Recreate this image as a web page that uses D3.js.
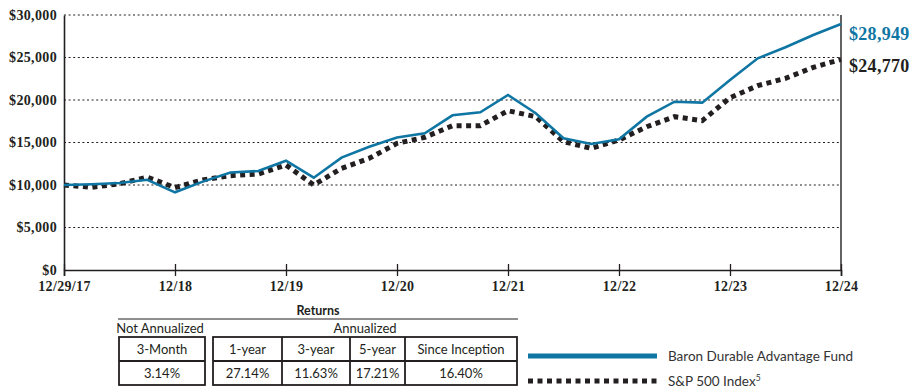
<!DOCTYPE html>
<html>
<head>
<meta charset="utf-8">
<script src="https://cdn.jsdelivr.net/npm/d3@7"></script>
<style>
  html, body { margin: 0; padding: 0; background: #fff; }
  svg { display: block; }
</style>
</head>
<body>
<svg id="chart" width="915" height="389"></svg>
<script>
// Growth of a hypothetical $10,000 investment, quarterly, 12/29/17 – 12/24
const quarterCount = 29;
const fundValues = [10000, 10080, 10230, 10620, 9140, 10400, 11480, 11650, 12860, 10860,
  13220, 14500, 15600, 16080, 18200, 18550, 20590, 18450, 15490, 14820,
  15370, 18040, 19800, 19690, 22350, 24900, 26200, 27650, 28949];
const indexValues = [10000, 9720, 10150, 10920, 9700, 10600, 11100, 11290, 12350, 10000,
  11960, 13140, 14900, 15610, 16980, 16980, 18740, 18040, 15100, 14310,
  15290, 16860, 18040, 17570, 20270, 21690, 22550, 23840, 24770];
const xTickQuarters = [0, 4, 8, 12, 16, 20, 24, 28];
const xTickLabels = ["12/29/17", "12/18", "12/19", "12/20", "12/21", "12/22", "12/23", "12/24"];
const yTicks = [0, 5000, 10000, 15000, 20000, 25000, 30000];
const endLabels = ["$28,949", "$24,770"];
const seriesNames = ["Baron Durable Advantage Fund", "S&P 500 Index"];

const returnGroups = ["Not Annualized", "Annualized"];
const returnPeriods = ["3-Month", "1-year", "3-year", "5-year", "Since Inception"];
const returnValues = ["3.14%", "27.14%", "11.63%", "17.21%", "16.40%"];

const BLUE = "#0f76a3";
const DARK = "#231f20";
const serif = "'Liberation Serif', 'Times New Roman', serif";
const sans = "Lato, 'Open Sans', sans-serif";

const svg = d3.select("#chart");
const plot = { left: 64, right: 841, top: 15, bottom: 270 };

const x = d3.scaleLinear().domain([0, quarterCount - 1]).range([plot.left, plot.right]);
const y = d3.scaleLinear().domain([0, 30000]).range([plot.bottom, plot.top]);

// dotted horizontal gridlines
svg.append("g")
  .selectAll("line")
  .data(yTicks.filter(d => d > 0))
  .join("line")
  .attr("x1", plot.left).attr("x2", plot.right)
  .attr("y1", d => y(d)).attr("y2", d => y(d))
  .attr("stroke", DARK).attr("stroke-width", 1.1)
  .attr("stroke-dasharray", "2,2.6");

// y axis
const yAxis = svg.append("g")
  .attr("transform", `translate(${plot.left},0)`)
  .call(d3.axisLeft(y).tickValues(yTicks).tickSize(0).tickPadding(7)
    .tickFormat(d => "$" + d3.format(",")(d)));
yAxis.select(".domain").attr("stroke", DARK).attr("stroke-width", 1.6);
yAxis.selectAll("text")
  .attr("font-family", serif).attr("font-weight", "bold")
  .attr("font-size", 14).attr("letter-spacing", 0.35).attr("fill", DARK);

// right frame line
svg.append("line")
  .attr("x1", plot.right).attr("x2", plot.right)
  .attr("y1", plot.top).attr("y2", plot.bottom)
  .attr("stroke", DARK).attr("stroke-width", 1.4);

// x axis
const xAxis = svg.append("g")
  .attr("transform", `translate(0,${plot.bottom})`)
  .call(d3.axisBottom(x).tickValues(xTickQuarters).tickSize(6).tickPadding(4)
    .tickFormat((d, i) => xTickLabels[i]));
xAxis.select(".domain").attr("stroke", DARK).attr("stroke-width", 1.6);
xAxis.selectAll(".tick line")
  .attr("y1", -6).attr("y2", 6)
  .attr("stroke", DARK).attr("stroke-width", 1.3);
xAxis.selectAll("text")
  .attr("y", 21).attr("dy", 0)
  .attr("font-family", serif).attr("font-weight", "bold")
  .attr("font-size", 14).attr("letter-spacing", 0.35).attr("fill", DARK);

const line = d3.line().x((d, i) => x(i)).y(d => y(d));

// S&P 500 Index (dotted)
svg.append("path")
  .datum(indexValues)
  .attr("d", line)
  .attr("fill", "none")
  .attr("stroke", DARK).attr("stroke-width", 5)
  .attr("stroke-dasharray", "5,4.5");

// Fund (solid blue)
svg.append("path")
  .datum(fundValues)
  .attr("d", line)
  .attr("fill", "none")
  .attr("stroke", BLUE).attr("stroke-width", 2.6)
  .attr("stroke-linejoin", "miter");

// ending values
const endSeries = [fundValues, indexValues];
const endOffsets = [16, 13];
svg.append("g")
  .selectAll("text")
  .data(endLabels)
  .join("text")
  .attr("x", plot.right + 8)
  .attr("y", (d, i) => y(endSeries[i][quarterCount - 1]) + endOffsets[i])
  .attr("font-family", serif).attr("font-weight", "bold")
  .attr("font-size", 18).attr("letter-spacing", 0.3)
  .attr("fill", (d, i) => i === 0 ? BLUE : DARK)
  .text(d => d);

// Returns table
const tbl = svg.append("g").attr("font-family", sans).attr("fill", DARK);
tbl.append("text")
  .attr("x", 318).attr("y", 315)
  .attr("text-anchor", "middle")
  .attr("font-weight", "bold").attr("font-size", 12.5)
  .text("Returns");
tbl.append("line")
  .attr("x1", 118).attr("x2", 518).attr("y1", 319).attr("y2", 319)
  .attr("stroke", DARK).attr("stroke-width", 1.2);

const cols = [
  { x0: 119, x1: 205 },
  { x0: 213, x1: 282 },
  { x0: 282, x1: 350 },
  { x0: 350, x1: 405 },
  { x0: 405, x1: 517 }
];
tbl.selectAll("text.group")
  .data(returnGroups)
  .join("text")
  .attr("class", "group")
  .attr("x", (d, i) => i === 0 ? (cols[0].x0 + cols[0].x1) / 2 - 2 : (cols[1].x0 + cols[4].x1) / 2)
  .attr("y", 333)
  .attr("text-anchor", "middle")
  .attr("font-size", 13)
  .text(d => d);

const rowTop = 337, rowMid = 361, rowBot = 385;
// box outlines
[[cols[0].x0, cols[0].x1], [cols[1].x0, cols[4].x1]].forEach(([a, b]) => {
  tbl.append("rect")
    .attr("x", a).attr("y", rowTop)
    .attr("width", b - a).attr("height", rowBot - rowTop)
    .attr("fill", "none").attr("stroke", DARK).attr("stroke-width", 1.8);
  tbl.append("line")
    .attr("x1", a).attr("x2", b).attr("y1", rowMid).attr("y2", rowMid)
    .attr("stroke", DARK).attr("stroke-width", 1.8);
});
tbl.selectAll("line.div")
  .data(cols.slice(2))
  .join("line")
  .attr("class", "div")
  .attr("x1", d => d.x0).attr("x2", d => d.x0)
  .attr("y1", rowTop).attr("y2", rowBot)
  .attr("stroke", DARK).attr("stroke-width", 1.8);
tbl.selectAll("text.period")
  .data(returnPeriods)
  .join("text")
  .attr("class", "period")
  .attr("x", (d, i) => (cols[i].x0 + cols[i].x1) / 2)
  .attr("y", rowTop + 17)
  .attr("text-anchor", "middle").attr("font-size", 13)
  .text(d => d);
tbl.selectAll("text.value")
  .data(returnValues)
  .join("text")
  .attr("class", "value")
  .attr("x", (d, i) => (cols[i].x0 + cols[i].x1) / 2)
  .attr("y", rowMid + 17)
  .attr("text-anchor", "middle").attr("font-size", 13)
  .text(d => d);

// legend
const lg = svg.append("g").attr("font-family", sans).attr("fill", "#333");
lg.append("line")
  .attr("x1", 528).attr("x2", 657).attr("y1", 356).attr("y2", 356)
  .attr("stroke", BLUE).attr("stroke-width", 5);
lg.append("line")
  .attr("x1", 528).attr("x2", 657).attr("y1", 381).attr("y2", 381)
  .attr("stroke", DARK).attr("stroke-width", 5)
  .attr("stroke-dasharray", "5,4.5");
lg.append("text")
  .attr("x", 668).attr("y", 361)
  .attr("font-size", 13.5)
  .text(seriesNames[0]);
const idx = lg.append("text")
  .attr("x", 668).attr("y", 386)
  .attr("font-size", 13.5)
  .text(seriesNames[1]);
idx.append("tspan")
  .attr("dy", -5).attr("font-size", 8.5)
  .text("5");
</script>
</body>
</html>
